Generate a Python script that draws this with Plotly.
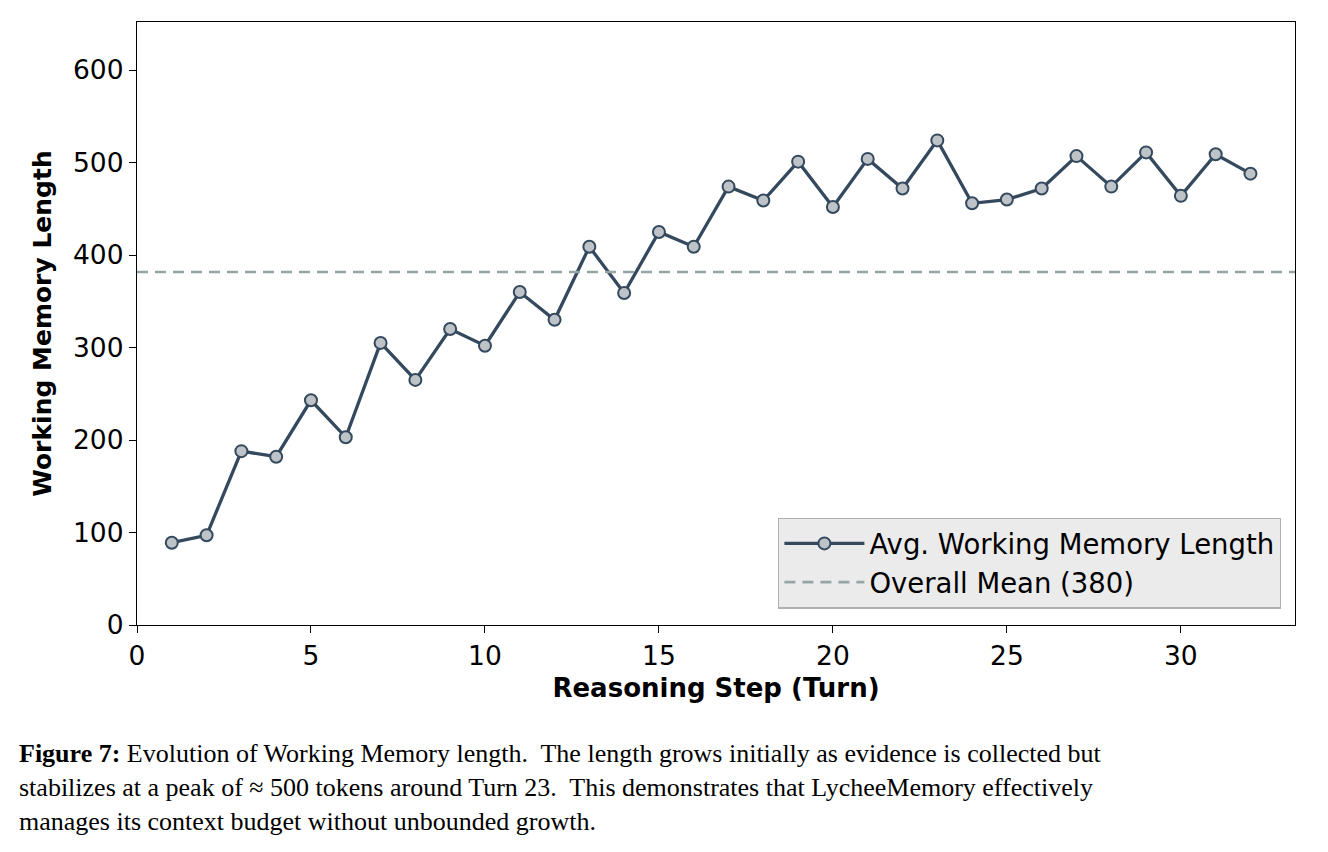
import plotly.graph_objects as go

steps = list(range(1, 33))
mem_len = [89, 97, 188, 182, 243, 203, 305, 265, 320, 302, 360, 330, 409, 359, 425, 409,
           474, 459, 501, 452, 504, 472, 524, 456, 460, 472, 507, 474, 511, 464, 509, 488]
mean_val = sum(mem_len) / len(mem_len)
x_range = [0, 33.28]
y_range = [0, 652]
x_ticks = [0, 5, 10, 15, 20, 25, 30]
y_ticks = [0, 100, 200, 300, 400, 500, 600]

caption_lines = [
    "<b>Figure 7:</b> Evolution of Working Memory length.  The length grows initially as evidence is collected but",
    "stabilizes at a peak of ≈ 500 tokens around Turn 23.  This demonstrates that LycheeMemory effectively",
    "manages its context budget without unbounded growth.",
]

fig = go.Figure()
fig.add_trace(go.Scatter(
    x=steps, y=mem_len, mode="lines+markers", name="Avg. Working Memory Length",
    line=dict(color="#34495e", width=3.3),
    marker=dict(size=12, color="#bdc3c7", line=dict(color="#34495e", width=2)),
))
fig.add_trace(go.Scatter(
    x=x_range, y=[mean_val, mean_val], mode="lines", name="Overall Mean (380)",
    line=dict(color="#95a5a6", width=2.6, dash="11px,7px"),
))

axis_common = dict(showgrid=False, zeroline=False, showline=True, linecolor="black",
                   linewidth=1.3, mirror=True, ticks="outside", ticklen=7, tickwidth=1.3,
                   tickcolor="black", tickfont=dict(family="DejaVu Sans", size=26.5, color="black"))
fig.update_xaxes(range=x_range, tickvals=x_ticks,
                 title=dict(text="<b>Reasoning Step (Turn)</b>", font=dict(family="DejaVu Sans", size=26, color="black"), standoff=8),
                 **axis_common)
fig.update_yaxes(range=y_range, tickvals=y_ticks,
                 title=dict(text="<b>Working Memory Length</b>", font=dict(family="DejaVu Sans", size=25, color="black"), standoff=14),
                 **axis_common)

caption = "<br>".join(caption_lines)
fig.add_annotation(text=caption, xref="paper", yref="paper", x=(17 - 137) / 1158, y=-(737 - 625) / 603,
                   xanchor="left", yanchor="top", showarrow=False, align="left",
                   font=dict(family="Liberation Serif", size=26, color="black"))

fig.update_layout(
    width=1328, height=852,
    margin=dict(l=137, r=33, t=22, b=227),
    paper_bgcolor="white", plot_bgcolor="white",
    legend=dict(x=0.988, y=0.027, xanchor="right", yanchor="bottom",
                bgcolor="#ebebeb", bordercolor="#b0b0b0", borderwidth=1.3,
                font=dict(family="DejaVu Sans", size=27.5, color="black"),
                itemwidth=80, tracegroupgap=0),
    showlegend=True,
)
fig.write_html("out.html")
